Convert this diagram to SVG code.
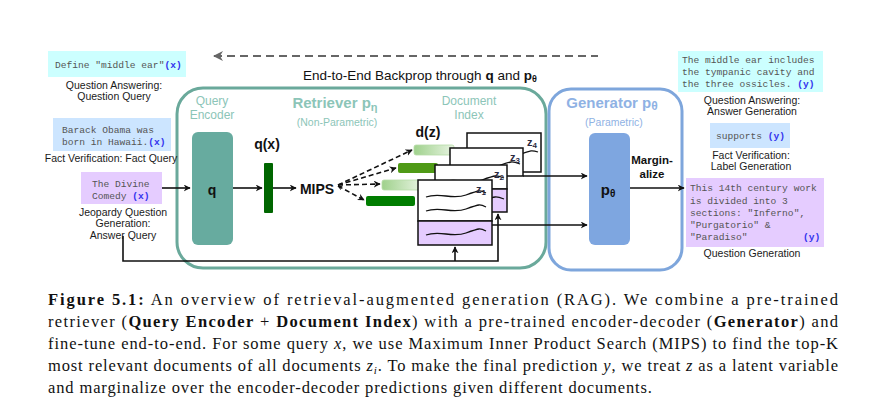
<svg xmlns="http://www.w3.org/2000/svg" width="886" height="412" viewBox="0 0 886 412">
<defs>
<style>
.lbl{font-family:"Liberation Sans",Arial,sans-serif;font-size:10.5px;fill:#1a1a1a;text-anchor:middle}
.mono{font-family:"Liberation Mono","Courier New",monospace;font-size:9.6px;fill:#555}
.var{font-family:"Liberation Mono","Courier New",monospace;font-size:9.6px;fill:#3333ee;font-weight:bold}
.teal{font-family:"Liberation Sans",Arial,sans-serif;fill:#8cc5b8;text-anchor:middle}
.blue{font-family:"Liberation Sans",Arial,sans-serif;fill:#8fb2e4;text-anchor:middle}
.bold{font-family:"Liberation Sans",Arial,sans-serif;font-weight:bold;fill:#111;text-anchor:middle}
.cap{font-family:"Liberation Serif","DejaVu Serif",serif;font-size:16.5px;fill:#111}
.doc{fill:#fff;stroke:#111;stroke-width:1.5}
.docp{fill:#e5ccff;stroke:#111;stroke-width:1.5}
.wave{fill:none;stroke:#111;stroke-width:1.3}
.line{fill:none;stroke:#111;stroke-width:1.6}
.dash{fill:none;stroke:#111;stroke-width:1.6;stroke-dasharray:5,3}
.zl{font-family:"Liberation Sans",Arial,sans-serif;font-size:11px;font-weight:bold;fill:#2a2a40}
</style>
<marker id="ah" viewBox="0 0 10 10" refX="9" refY="5" markerWidth="7" markerHeight="7" orient="auto-start-reverse" markerUnits="userSpaceOnUse">
<path d="M0,0 L10,5 L0,10 L3,5 Z" fill="#111"/>
</marker>
<marker id="ahs" viewBox="0 0 10 10" refX="9" refY="5" markerWidth="5" markerHeight="5" orient="auto-start-reverse" markerUnits="userSpaceOnUse">
<path d="M0,0 L10,5 L0,10 L3,5 Z" fill="#111"/>
</marker>
<marker id="ahg" viewBox="0 0 10 10" refX="9" refY="5" markerWidth="10" markerHeight="10" orient="auto-start-reverse" markerUnits="userSpaceOnUse">
<path d="M0,0 L10,5 L0,10 L3,5 Z" fill="#666"/>
</marker>
<linearGradient id="lg" x1="0" y1="0" x2="1" y2="0">
<stop offset="0" stop-color="#9fd18c"/>
<stop offset="1" stop-color="#e8f4e2"/>
</linearGradient>
</defs>

<!-- containers -->
<g id="retriever">
<rect x="177" y="88" width="369" height="180" rx="26" fill="none" stroke="#6aa99b" stroke-width="3"/>
<text class="teal" x="335" y="108" font-size="15" font-weight="bold">Retriever p<tspan font-size="11" dy="3">η</tspan></text>
<text class="teal" x="337" y="126" font-size="10.5">(Non-Parametric)</text>
</g>
<g id="generator">
<rect x="549" y="89" width="133" height="181" rx="22" fill="none" stroke="#7ea6dc" stroke-width="3"/>
<text class="blue" x="612" y="108" font-size="15" font-weight="bold" fill="#7ea6e0">Generator p<tspan font-size="12" dy="2">θ</tspan></text>
<text class="blue" x="614" y="126" font-size="10.5" fill="#a4c1ea">(Parametric)</text>
</g>

<!-- backprop -->
<g id="backprop">
<line x1="214" y1="56" x2="598" y2="56" stroke="#666" stroke-width="2" stroke-dasharray="8,5" marker-start="url(#ahg)"/>
<text x="303" y="80" font-family="Liberation Sans,Arial,sans-serif" font-size="13.5" fill="#111">End-to-End Backprop through <tspan font-weight="bold">q</tspan> and <tspan font-weight="bold">p</tspan><tspan font-weight="bold" font-size="9" dy="2">θ</tspan></text>
</g>

<!-- left inputs -->
<g id="in-qa">
<rect x="48" y="51" width="138" height="26" fill="#ccffff"/>
<text class="mono" x="55" y="68">Define "middle ear"<tspan class="var">(x)</tspan></text>
<text class="lbl" x="114" y="89">Question Answering:</text>
<text class="lbl" x="114" y="100">Question Query</text>
</g>
<g id="in-fv">
<rect x="53" y="118" width="118" height="33" fill="#cce5ff"/>
<text class="mono" x="62" y="133">Barack Obama was</text>
<text class="mono" x="62" y="145">born in Hawaii.<tspan class="var">(x)</tspan></text>
<text class="lbl" x="111" y="162">Fact Verification: Fact Query</text>
</g>
<g id="in-jq">
<rect x="81" y="172" width="81" height="32" fill="#e5ccff"/>
<text class="mono" x="92" y="187">The Divine</text>
<text class="mono" x="92" y="199">Comedy <tspan class="var">(x)</tspan></text>
<text class="lbl" x="123" y="216">Jeopardy Question</text>
<text class="lbl" x="123" y="227">Generation:</text>
<text class="lbl" x="123" y="239">Answer Query</text>
</g>

<!-- query encoder -->
<g id="query-encoder">
<text class="teal" x="212" y="105" font-size="12">Query</text>
<text class="teal" x="212" y="119" font-size="12">Encoder</text>
<rect x="192" y="132" width="41" height="113" rx="6" fill="#67ab9f"/>
<text class="bold" x="212" y="195" font-size="14">q</text>
</g>
<g id="qx">
<text class="bold" x="267" y="149" font-size="14">q(x)</text>
<rect x="264" y="163" width="9" height="50" rx="1" fill="#006600"/>
</g>
<g id="mips">
<text class="bold" x="317" y="194" font-size="14">MIPS</text>
</g>

<!-- d(z) vectors -->
<g id="dz">
<text class="bold" x="428" y="137" font-size="14">d(z)</text>
<rect x="414" y="145" width="40" height="10" rx="2" fill="url(#lg)" stroke="#b6dca7" stroke-width="0.8"/>
<rect x="398" y="163" width="40" height="10" rx="2" fill="#4f9a16"/>
<rect x="382" y="180" width="40" height="10" rx="2" fill="url(#lg)" stroke="#b6dca7" stroke-width="0.8"/>
<rect x="366" y="196" width="49" height="10" rx="2" fill="#007d00"/>
</g>

<!-- document index -->
<g id="document-index">
<text class="teal" x="469" y="105" font-size="12">Document</text>
<text class="teal" x="469" y="119" font-size="12">Index</text>
<rect class="doc" x="467" y="133" width="74" height="39"/>
<path class="wave" d="M478,157 C492,152 504,160 518,155 S532,150 538,152"/>
<text class="zl" x="527" y="146">z<tspan font-size="8" dy="2">4</tspan></text>
<rect class="doc" x="450" y="148" width="73" height="28"/>
<path class="wave" d="M458,168 C472,163 484,171 498,166 S512,161 520,164"/>
<text class="zl" x="510" y="161">z<tspan font-size="8" dy="2">3</tspan></text>
<rect class="doc" x="435" y="165" width="72" height="24"/>
<rect class="docp" x="435" y="189" width="72" height="23"/>
<path class="wave" d="M442,182 C456,177 468,185 482,180 S496,175 504,178"/>
<path class="wave" d="M442,203 C456,198 468,206 482,201 S496,196 504,199"/>
<text class="zl" x="494" y="178">z<tspan font-size="8" dy="2">2</tspan></text>
<rect class="doc" x="418" y="180" width="74" height="41"/>
<rect class="docp" x="418" y="221" width="74" height="24"/>
<path class="wave" d="M426,197 C440,192 452,200 466,195 S480,190 486,193"/>
<path class="wave" d="M426,211 C440,206 452,214 466,209 S480,204 486,207"/>
<path class="wave" d="M426,235 C440,230 452,238 466,233 S480,228 486,231"/>
<text class="zl" x="476" y="193">z<tspan font-size="8" dy="2">1</tspan></text>
</g>

<!-- generator p box -->
<g id="p-theta">
<rect x="589" y="133" width="41" height="112" rx="6" fill="#7ea6e0"/>
<text class="bold" x="608" y="195" font-size="15">p<tspan font-size="10" dy="2">θ</tspan></text>
<text class="bold" x="652" y="164" font-size="11.5">Margin-</text>
<text class="bold" x="652" y="178" font-size="11.5">alize</text>
</g>

<!-- right outputs -->
<g id="out-qa">
<rect x="678" y="51" width="145" height="41" fill="#ccffff"/>
<text class="mono" x="682" y="63">The middle ear includes</text>
<text class="mono" x="682" y="75">the tympanic cavity and</text>
<text class="mono" x="682" y="87">the three ossicles.  <tspan class="var">(y)</tspan></text>
<text class="lbl" x="752" y="104">Question Answering:</text>
<text class="lbl" x="752" y="115">Answer Generation</text>
</g>
<g id="out-fv">
<rect x="710" y="123" width="80" height="25" fill="#cce5ff"/>
<text class="mono" x="716" y="139">supports <tspan class="var">(y)</tspan></text>
<text class="lbl" x="751" y="159">Fact Verification:</text>
<text class="lbl" x="751" y="170">Label Generation</text>
</g>
<g id="out-qg">
<rect x="686" y="178" width="138" height="69" fill="#e5ccff"/>
<text class="mono" x="690" y="191">This 14th century work</text>
<text class="mono" x="690" y="204">is divided into 3</text>
<text class="mono" x="690" y="216">sections: "Inferno",</text>
<text class="mono" x="690" y="228">"Purgatorio" &amp;</text>
<text class="mono" x="690" y="240">"Paradiso"</text>
<text class="var" x="803" y="240">(y)</text>
<text class="lbl" x="752" y="257">Question Generation</text>
</g>

<!-- connectors -->
<g id="connectors">
<line class="line" x1="162" y1="188" x2="190" y2="188" marker-end="url(#ah)"/>
<line class="line" x1="233" y1="188" x2="262" y2="188" marker-end="url(#ah)"/>
<line class="line" x1="273" y1="188" x2="296" y2="188" marker-end="url(#ah)"/>
<line class="dash" x1="338" y1="185" x2="412" y2="150" marker-end="url(#ah)"/>
<line class="dash" x1="338" y1="185" x2="396" y2="168" marker-end="url(#ah)"/>
<line class="dash" x1="338" y1="185" x2="380" y2="184" marker-end="url(#ah)"/>
<line class="dash" x1="338" y1="186" x2="364" y2="200" marker-end="url(#ah)" marker-start="url(#ahs)"/>
<line class="line" x1="523" y1="176" x2="587" y2="176" marker-end="url(#ah)"/>
<line class="line" x1="492" y1="225" x2="587" y2="225" marker-end="url(#ah)"/>
<line class="line" x1="630" y1="188" x2="684" y2="188" marker-end="url(#ah)"/>
<polyline class="line" points="123,236 123,261 498,261 498,214" marker-end="url(#ah)"/>
<line class="line" x1="455" y1="261" x2="455" y2="247" marker-end="url(#ah)"/>
</g>

<!-- caption -->
<g id="caption">
<text class="cap" x="48" y="305" textLength="790" lengthAdjust="spacing"><tspan font-weight="bold">Figure 5.1:</tspan>  An overview of retrieval-augmented generation (RAG). We combine a pre-trained</text>
<text class="cap" x="48" y="327" textLength="790" lengthAdjust="spacing">retriever (<tspan font-weight="bold">Query Encoder</tspan> + <tspan font-weight="bold">Document Index</tspan>) with a pre-trained encoder-decoder (<tspan font-weight="bold">Generator</tspan>) and</text>
<text class="cap" x="48" y="349" textLength="790" lengthAdjust="spacing">fine-tune end-to-end. For some query <tspan font-style="italic">x</tspan>, we use Maximum Inner Product Search (MIPS) to find the top-K</text>
<text class="cap" x="48" y="371" textLength="790" lengthAdjust="spacing">most relevant documents of all documents <tspan font-style="italic">z</tspan><tspan font-style="italic" font-size="11" dy="3">i</tspan><tspan dy="-3">. To make the final prediction </tspan><tspan font-style="italic">y</tspan>, we treat <tspan font-style="italic">z</tspan> as a latent variable</text>
<text class="cap" x="48" y="393" textLength="604" lengthAdjust="spacing">and marginalize over the encoder-decoder predictions given different documents.</text>
</g>
</svg>
